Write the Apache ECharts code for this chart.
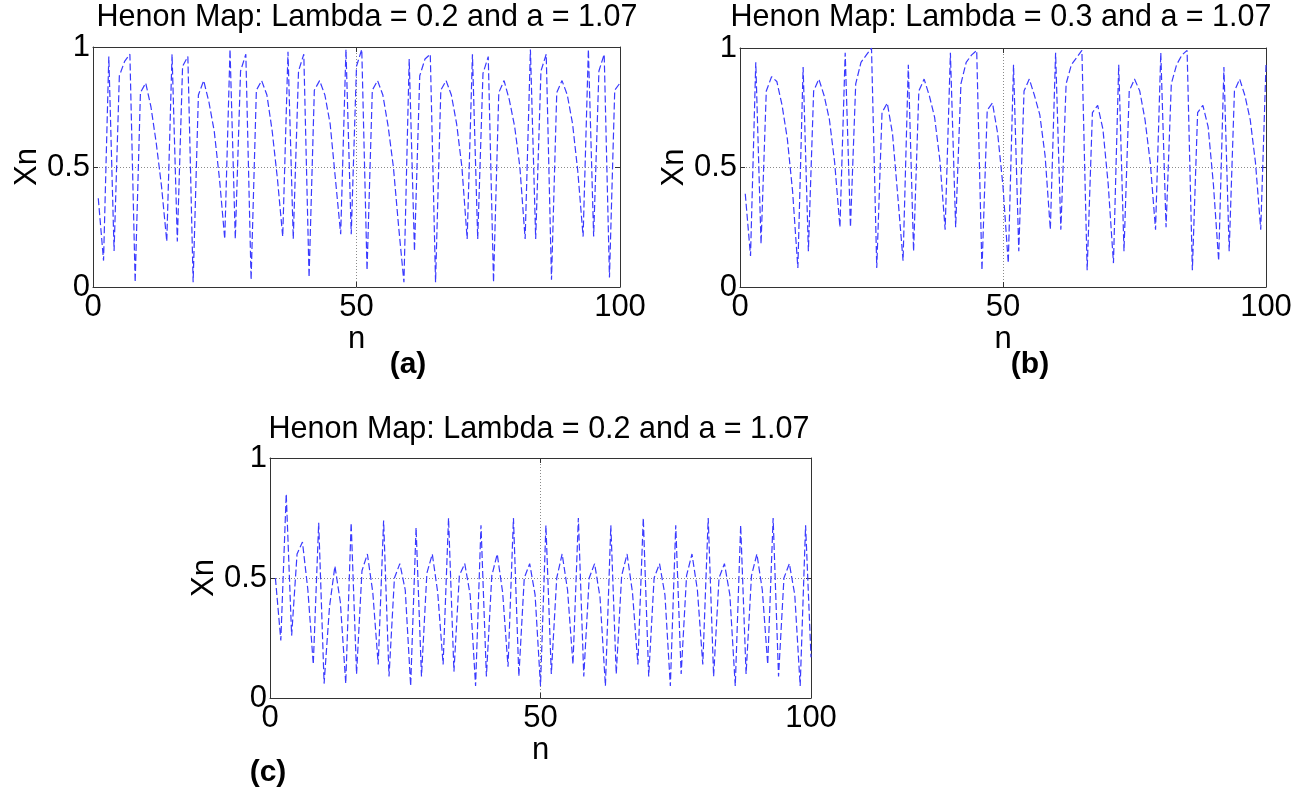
<!DOCTYPE html>
<html>
<head>
<meta charset="utf-8">
<script src="https://cdn.jsdelivr.net/npm/echarts@6/dist/echarts.min.js"></script>
<style>
html, body { margin: 0; padding: 0; background: #ffffff; }
#chart { width: 1306px; height: 790px; }
</style>
</head>
<body>
<div id="chart"></div>
<script>
// Henon map iterates Xn for n = 1..100, one array per panel
const xnPanelA = [
  0.37, 0.11, 0.96, 0.15, 0.88, 0.94, 0.97, 0.02, 0.81, 0.85,
  0.75, 0.60, 0.42, 0.19, 0.97, 0.19, 0.92, 0.96, 0.02, 0.80,
  0.86, 0.77, 0.65, 0.45, 0.20, 0.99, 0.20, 0.90, 0.97, 0.03,
  0.82, 0.86, 0.80, 0.65, 0.45, 0.21, 0.98, 0.20, 0.90, 0.97,
  0.04, 0.82, 0.86, 0.80, 0.68, 0.45, 0.22, 0.99, 0.22, 0.92,
  0.99, 0.07, 0.82, 0.86, 0.80, 0.67, 0.50, 0.25, 0.02, 0.95,
  0.15, 0.88, 0.95, 0.97, 0.02, 0.82, 0.86, 0.80, 0.68, 0.50,
  0.20, 0.97, 0.20, 0.89, 0.96, 0.02, 0.81, 0.86, 0.78, 0.67,
  0.50, 0.20, 0.99, 0.20, 0.90, 0.97, 0.03, 0.81, 0.86, 0.80,
  0.68, 0.48, 0.21, 0.99, 0.21, 0.90, 0.97, 0.04, 0.82, 0.85
];
const xnPanelB = [
  0.39, 0.13, 0.94, 0.18, 0.82, 0.88, 0.86, 0.76, 0.62, 0.40,
  0.08, 0.92, 0.15, 0.82, 0.87, 0.80, 0.70, 0.52, 0.25, 0.98,
  0.25, 0.85, 0.94, 0.97, 1.00, 0.08, 0.73, 0.77, 0.64, 0.38,
  0.11, 0.93, 0.15, 0.82, 0.87, 0.80, 0.71, 0.53, 0.24, 0.98,
  0.25, 0.85, 0.94, 0.97, 0.99, 0.07, 0.74, 0.77, 0.64, 0.42,
  0.10, 0.93, 0.15, 0.82, 0.87, 0.80, 0.72, 0.55, 0.24, 0.98,
  0.24, 0.85, 0.93, 0.96, 0.99, 0.07, 0.73, 0.76, 0.66, 0.43,
  0.10, 0.93, 0.15, 0.82, 0.87, 0.82, 0.70, 0.52, 0.24, 0.98,
  0.25, 0.85, 0.93, 0.97, 0.99, 0.07, 0.73, 0.76, 0.67, 0.43,
  0.11, 0.92, 0.15, 0.82, 0.87, 0.80, 0.70, 0.52, 0.24, 0.93
];
const xnPanelC = [
  0.50, 0.24, 0.85, 0.26, 0.60, 0.65, 0.45, 0.14, 0.73, 0.06,
  0.38, 0.55, 0.40, 0.06, 0.73, 0.10, 0.53, 0.60, 0.44, 0.14,
  0.74, 0.09, 0.50, 0.56, 0.45, 0.05, 0.71, 0.09, 0.52, 0.60,
  0.44, 0.14, 0.75, 0.11, 0.51, 0.56, 0.43, 0.05, 0.72, 0.09,
  0.51, 0.60, 0.44, 0.13, 0.75, 0.09, 0.50, 0.56, 0.43, 0.05,
  0.72, 0.10, 0.50, 0.60, 0.45, 0.14, 0.75, 0.09, 0.50, 0.56,
  0.42, 0.05, 0.72, 0.10, 0.51, 0.60, 0.44, 0.14, 0.75, 0.09,
  0.50, 0.56, 0.43, 0.05, 0.72, 0.10, 0.51, 0.60, 0.45, 0.14,
  0.75, 0.09, 0.50, 0.56, 0.43, 0.05, 0.72, 0.10, 0.51, 0.60,
  0.45, 0.14, 0.75, 0.09, 0.50, 0.56, 0.43, 0.05, 0.72, 0.17
];

const panelTitles = [
  'Henon Map: Lambda = 0.2 and a = 1.07',
  'Henon Map: Lambda = 0.3 and a = 1.07',
  'Henon Map: Lambda = 0.2 and a = 1.07'
];
const panelTags = ['(a)', '(b)', '(c)'];
const xAxisName = 'n';
const yAxisName = 'Xn';
const xRange = [0, 100, 50];   // min, max, interval
const yRange = [0, 1, 0.5];

const FONT = '"Liberation Sans", Arial, sans-serif';
const AXIS_COLOR = '#333333';
const LINE_COLOR = '#3a3aff';
const TEXT_SIZE = 31;

// plot boxes and text anchors for each panel
const layout = [
  { grid: { left: 93, top: 47, width: 527, height: 240 }, title: [367, 18], tag: [408, 365] },
  { grid: { left: 740, top: 48, width: 526, height: 239 }, title: [1001, 18], tag: [1030, 365] },
  { grid: { left: 270, top: 458, width: 541, height: 240 }, title: [539, 430], tag: [268, 773] }
];
const seriesData = [xnPanelA, xnPanelB, xnPanelC];

const grids = [], xAxes = [], yAxes = [], series = [], graphics = [];

layout.forEach((p, i) => {
  grids.push(Object.assign({ show: false }, p.grid));

  const common = {
    gridIndex: i,
    type: 'value',
    axisLine: { show: true, onZero: false, lineStyle: { color: AXIS_COLOR, width: 1 } },
    axisTick: { show: true, inside: true, length: 5, lineStyle: { color: AXIS_COLOR } }
  };
  // bottom x axis with labels, name and dotted grid
  xAxes.push(Object.assign({}, common, {
    position: 'bottom',
    min: xRange[0], max: xRange[1], interval: xRange[2],
    name: xAxisName, nameLocation: 'middle', nameGap: 33,
    nameTextStyle: { fontFamily: FONT, fontSize: TEXT_SIZE, color: '#000' },
    axisLabel: { show: true, margin: 5, fontFamily: FONT, fontSize: TEXT_SIZE, color: '#000' },
    splitLine: { show: true, lineStyle: { color: '#8a8a8a', type: [1, 2], width: 1 } }
  }));
  // top x axis: box edge and ticks only
  xAxes.push(Object.assign({}, common, {
    position: 'top',
    min: xRange[0], max: xRange[1], interval: xRange[2],
    axisLabel: { show: false },
    splitLine: { show: false }
  }));
  // left y axis
  yAxes.push(Object.assign({}, common, {
    position: 'left',
    min: yRange[0], max: yRange[1], interval: yRange[2],
    name: yAxisName, nameLocation: 'middle', nameGap: 47,
    nameTextStyle: { fontFamily: FONT, fontSize: TEXT_SIZE, color: '#000' },
    axisLabel: { show: true, margin: 3, fontFamily: FONT, fontSize: TEXT_SIZE, color: '#000' },
    splitLine: { show: true, lineStyle: { color: '#8a8a8a', type: [1, 2], width: 1 } }
  }));
  // right y axis: box edge and ticks only
  yAxes.push(Object.assign({}, common, {
    position: 'right',
    min: yRange[0], max: yRange[1], interval: yRange[2],
    axisLabel: { show: false },
    splitLine: { show: false }
  }));

  series.push({
    type: 'line',
    xAxisIndex: 2 * i,
    yAxisIndex: 2 * i,
    data: seriesData[i].map((v, k) => [k + 1, v]),
    showSymbol: false,
    symbol: 'none',
    animation: false,
    lineStyle: { color: LINE_COLOR, width: 1.2, type: [7, 3] },
    z: 1
  });

  graphics.push({
    type: 'text',
    x: p.title[0], y: p.title[1],
    style: {
      text: panelTitles[i], fill: '#000',
      font: '30.5px ' + FONT, align: 'center', verticalAlign: 'middle'
    }
  });
  graphics.push({
    type: 'text',
    x: p.tag[0], y: p.tag[1],
    style: {
      text: panelTags[i], fill: '#000',
      font: 'bold 30px ' + FONT, align: 'center', verticalAlign: 'middle'
    }
  });
});

const chart = echarts.init(document.getElementById('chart'), null, { renderer: 'canvas' });
chart.setOption({
  animation: false,
  backgroundColor: '#ffffff',
  grid: grids,
  xAxis: xAxes,
  yAxis: yAxes,
  series: series,
  graphic: graphics
});
</script>
</body>
</html>
